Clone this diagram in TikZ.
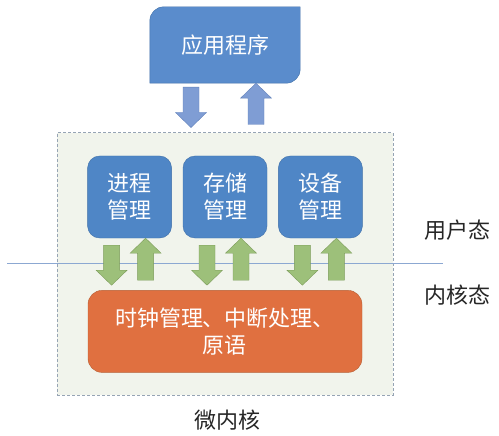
\documentclass[tikz,border=0pt]{standalone}
\usepackage{fontspec}
\usepackage{tikz}
\usetikzlibrary{calc}
\usetikzlibrary{positioning}
\newfontfamily\cjk{Noto Sans CJK SC}
\definecolor{appblue}{HTML}{5A8CCC}
\definecolor{boxblue}{HTML}{4F86C6}
\definecolor{boxedge}{HTML}{3F6FA8}
\definecolor{arrblue}{HTML}{7F9DD4}
\definecolor{arrbluedge}{HTML}{6282BA}
\definecolor{arrgreen}{HTML}{9DC07A}
\definecolor{arrgreenedge}{HTML}{7C9C5A}
\definecolor{coreorange}{HTML}{E07040}
\definecolor{coreedge}{HTML}{B65F35}
\definecolor{framefill}{HTML}{F1F4EC}
\definecolor{framedge}{HTML}{96A4B4}
\definecolor{splitline}{HTML}{8CA8D2}
\tikzset{%
  bigtext/.style={font=\cjk\fontsize{22}{27}\selectfont, align=center},
  modbox/.style={bigtext, rectangle, rounded corners=12pt, fill=boxblue, draw=boxedge,
    text=white, minimum width=84pt, minimum height=82pt, inner sep=0pt},
  corebox/.style={bigtext, rectangle, rounded corners=14pt, fill=coreorange, draw=coreedge,
    text=white, minimum width=274pt, minimum height=82pt, inner sep=0pt},
  kernframe/.style={rectangle, fill=framefill, draw=framedge, line width=1pt,
    dash pattern=on 3pt off 2pt, minimum width=336pt, minimum height=262pt},
  bluearrow/.style={fill=arrblue, draw=arrbluedge},
  greenarrow/.style={fill=arrgreen, draw=arrgreenedge},
  sidelabel/.style={bigtext, text=black!85}
}
% block arrow from #2 with its tip at the height of #3
\newcommand{\blockarrow}[3][]{%
  \filldraw[#1] let \p1=(#2), \p2=(#3), \n1={ifthenelse(\y2>\y1,1,-1)*15} in
    ({\x1-8pt},\y1) -- ({\x1-8pt},{\y2-\n1}) -- ({\x1-15.5pt},{\y2-\n1}) -- (\x1,\y2)
    -- ({\x1+15.5pt},{\y2-\n1}) -- ({\x1+8pt},{\y2-\n1}) -- ({\x1+8pt},\y1) -- cycle;
}

\begin{document}
\begin{tikzpicture}[x=1pt, y=-1pt]
  \useasboundingbox (0,0) rectangle (499,436);
  \node[kernframe] (frame) at (225,264) {};
  \node[minimum width=150pt, minimum height=76pt, inner sep=0pt] (app) at (225,45) {};
  \filldraw[fill=appblue, draw=boxedge] (app.south west)
    -- ($(app.north west)+(0pt,-14pt)$) arc[start angle=180, end angle=90, radius=14pt]
    -- (app.north east)
    -- ($(app.south east)+(0pt,14pt)$) arc[start angle=0, end angle=-90, radius=14pt]
    -- cycle;
  \node[bigtext, text=white] (apptext) at (app.center) {应用程序};
  \node[modbox] (mem) at (225,197) {存储\\管理};
  \node[modbox, left=11pt of mem] (proc) {进程\\管理};
  \node[modbox, right=11pt of mem] (dev) {设备\\管理};
  \node[corebox, below=52pt of mem] (core) {时钟管理、中断处理、\\原语};
  \coordinate (lineL) at (7,263);
  \coordinate (lineR) at (443,263);
  \draw[splitline, line width=1pt] (lineL) -- (lineR);
  \node[sidelabel] (user) at (457,230) {用户态};
  \node[sidelabel] (kern) at (457,295) {内核态};
  \node[sidelabel] (micro) at (227,420) {微内核};
  % app <-> frame
  \blockarrow[bluearrow]{$(app.south)+(-34pt,-4pt)$}{$(frame.north)+(0pt,5pt)$}
  \blockarrow[bluearrow]{$(frame.north)+(31pt,8pt)$}{app.south}
  % modules <-> core
  \foreach \m in {proc,mem,dev}{
    \blockarrow[greenarrow]{$(\m.south)+(-18pt,-7pt)$}{$(core.north)+(0pt,5pt)$}
    \blockarrow[greenarrow]{$(\m.south |- core.north)+(16pt,10pt)$}{\m.south}
  }
\end{tikzpicture}
\end{document}
